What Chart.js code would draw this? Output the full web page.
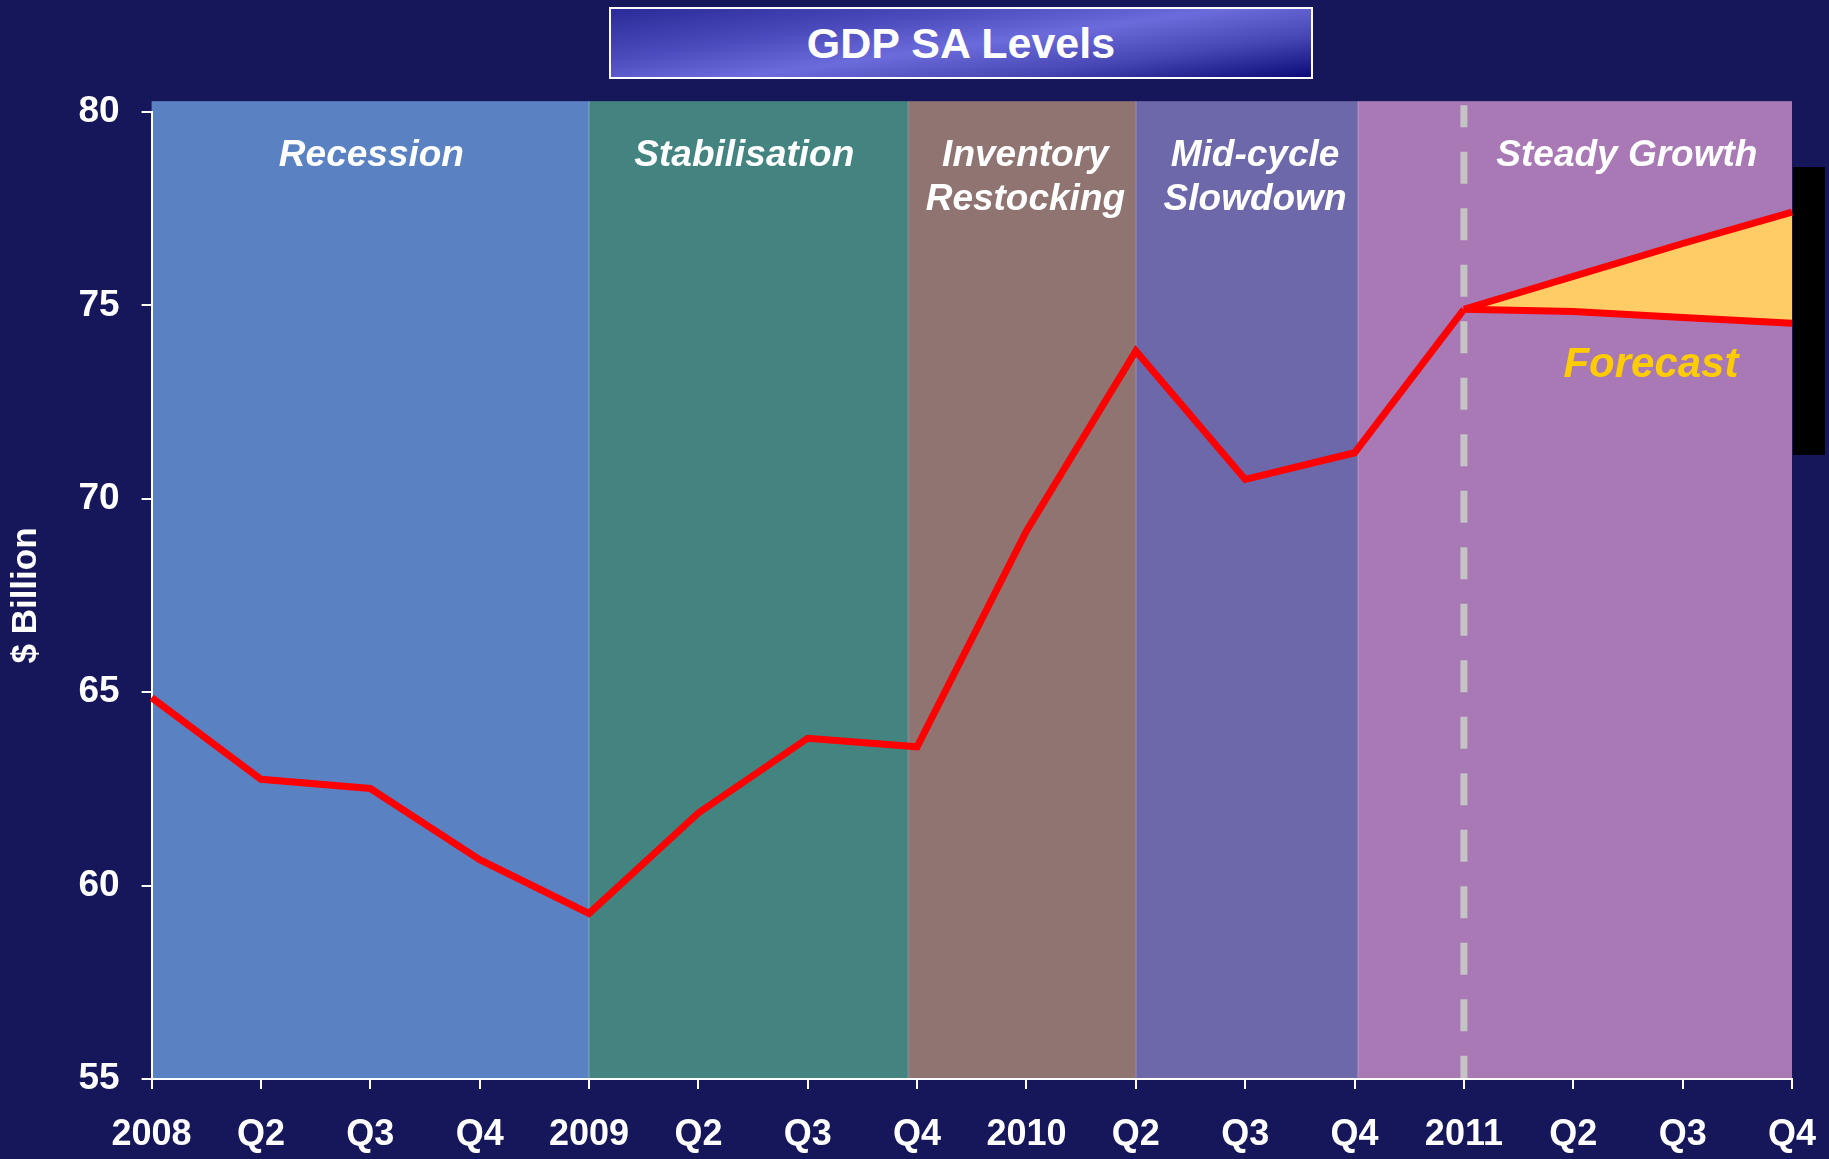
<!DOCTYPE html>
<html>
<head>
<meta charset="utf-8">
<title>GDP SA Levels</title>
<script src="https://cdn.jsdelivr.net/npm/chart.js@4.4.1/dist/chart.umd.min.js"></script>
<style>
  html, body { margin: 0; padding: 0; background: #16165a; }
  #wrap { position: relative; width: 1829px; height: 1159px; overflow: hidden; }
  #gdpChart { position: absolute; left: 0; top: 0; }
  #title {
    position: absolute; left: 609px; top: 7px; width: 700px; height: 68px;
    border: 2px solid #fff;
    background: linear-gradient(172deg, #2a2a98 0%, #4b4bbd 30%, #6b6bdb 52%, #4646b4 75%, #0a0a78 100%);
    color: #fff; text-align: center;
    font: bold 43px "Liberation Sans", Arial, sans-serif;
    line-height: 68px;
  }
  #edge { position: absolute; left: 1793px; top: 167px; width: 32px; height: 288px; background: #000; }
</style>
</head>
<body>
<div id="wrap">
  <canvas id="gdpChart" width="1829" height="1159"></canvas>
  <div id="title">GDP SA Levels</div>
  <div id="edge"></div>
</div>
<script>
// Quarterly GDP, seasonally adjusted, $ billion
const quarterLabels = ["2008", "Q2", "Q3", "Q4", "2009", "Q2", "Q3", "Q4",
                       "2010", "Q2", "Q3", "Q4", "2011", "Q2", "Q3", "Q4"];
const gdpActual = [64.86, 62.75, 62.51, 60.67, 59.28, 61.88, 63.81, 63.59,
                   69.17, 73.82, 70.50, 71.19, 74.90, null, null, null];
const forecastHigh = [null, null, null, null, null, null, null, null,
                      null, null, null, null, 74.90, 75.75, 76.60, 77.41];
const forecastLow = [null, null, null, null, null, null, null, null,
                     null, null, null, null, 74.90, 74.84, 74.69, 74.54];

// Cycle phases: boundaries on the quarter axis and where each name sits
const phaseNames = [["Recession"], ["Stabilisation"], ["Inventory", "Restocking"],
                    ["Mid-cycle", "Slowdown"], ["Steady Growth"]];
const phaseBounds = [0, 4, 6.92, 9, 11.03, 15];
const phaseLabelAt = [2.01, 5.42, 7.99, 10.09, 13.49];
const forecastStart = 12;

const yTicks = [55, 60, 65, 70, 75, 80];

const phaseColors = ["#5a82c3", "#438481", "#8f7471", "#6c68a9", "#a879b5"];
const fontFamily = "'Liberation Sans', Arial, Helvetica, sans-serif";

Chart.defaults.font.family = fontFamily;
Chart.defaults.font.weight = "bold";

// shaded phase bands, phase names and the dashed forecast marker
const phaseBands = {
  id: "phaseBands",
  beforeDraw(chart) {
    const { ctx, scales: { x, y } } = chart;
    const top = y.getPixelForValue(80.28);
    const bottom = y.getPixelForValue(55);
    ctx.save();
    for (let i = 0; i < phaseColors.length; i++) {
      const x0 = x.getPixelForValue(phaseBounds[i]);
      const x1 = x.getPixelForValue(phaseBounds[i + 1]);
      ctx.fillStyle = phaseColors[i];
      ctx.fillRect(x0, top, x1 - x0, bottom - top);
    }
    ctx.strokeStyle = "rgba(255,255,255,0.22)";
    ctx.lineWidth = 1.5;
    for (let i = 1; i < phaseBounds.length - 1; i++) {
      const px = x.getPixelForValue(phaseBounds[i]);
      ctx.beginPath();
      ctx.moveTo(px, top);
      ctx.lineTo(px, bottom);
      ctx.stroke();
    }

    // dashed line where the forecast begins
    const fx = x.getPixelForValue(forecastStart);
    ctx.strokeStyle = "#c4c4c4";
    ctx.lineWidth = 7;
    ctx.setLineDash([32, 24.5]);
    ctx.lineDashOffset = 10;
    ctx.beginPath();
    ctx.moveTo(fx, top + 4);
    ctx.lineTo(fx, bottom);
    ctx.stroke();
    ctx.setLineDash([]);

    ctx.fillStyle = "#fff";
    ctx.textAlign = "center";
    ctx.textBaseline = "middle";
    ctx.font = "italic bold 37px " + fontFamily;
    phaseNames.forEach((lines, i) => {
      const cx = x.getPixelForValue(phaseLabelAt[i]);
      lines.forEach((text, j) => ctx.fillText(text, cx, top + 55 + j * 44));
    });

    ctx.fillStyle = "#ffcc00";
    ctx.font = "italic bold 42px " + fontFamily;
    ctx.fillText("Forecast", x.getPixelForValue(13.71), y.getPixelForValue(73.45));
    ctx.restore();
  }
};

const lineStyle = { borderColor: "#ff0000", borderWidth: 7, pointRadius: 0, tension: 0 };

new Chart(document.getElementById("gdpChart"), {
  type: "line",
  data: {
    labels: quarterLabels,
    datasets: [
      { label: "GDP", data: gdpActual, fill: false, ...lineStyle },
      { label: "Forecast high", data: forecastHigh, fill: false, ...lineStyle },
      { label: "Forecast low", data: forecastLow, backgroundColor: "#ffcc66", fill: "-1", ...lineStyle }
    ]
  },
  options: {
    responsive: false,
    animation: false,
    layout: { padding: { top: 112, right: 37, left: 0, bottom: 0 } },
    plugins: {
      legend: { display: false },
      tooltip: { enabled: false },
      filler: { drawTime: "beforeDatasetsDraw" }
    },
    scales: {
      x: {
        type: "category",
        offset: false,
        grid: { drawOnChartArea: false, color: "#fff", lineWidth: 2, tickLength: 10 },
        border: { color: "#fff", width: 2 },
        ticks: {
          color: "#fff",
          // tall line box pushes the labels down without widening the side padding
          font: { size: 36, weight: "bold", lineHeight: 2.34 },
          padding: 4,
          autoSkip: false,
          maxRotation: 0
        },
        afterFit: (s) => { s.height = 80; }
      },
      y: {
        min: yTicks[0],
        max: yTicks[yTicks.length - 1],
        afterBuildTicks: (s) => { s.ticks = yTicks.map((v) => ({ value: v })); },
        grid: { drawOnChartArea: false, color: "#fff", lineWidth: 2, tickLength: 10 },
        border: { color: "#fff", width: 2 },
        ticks: { color: "#fff", font: { size: 37, weight: "bold" }, padding: 22 },
        title: {
          display: true,
          text: "$ Billion",
          color: "#fff",
          font: { size: 35, weight: "bold" },
          padding: { top: 5, bottom: 0 }
        },
        afterFit: (s) => { s.width = 151.6; }
      }
    }
  },
  plugins: [phaseBands]
});
</script>
</body>
</html>
